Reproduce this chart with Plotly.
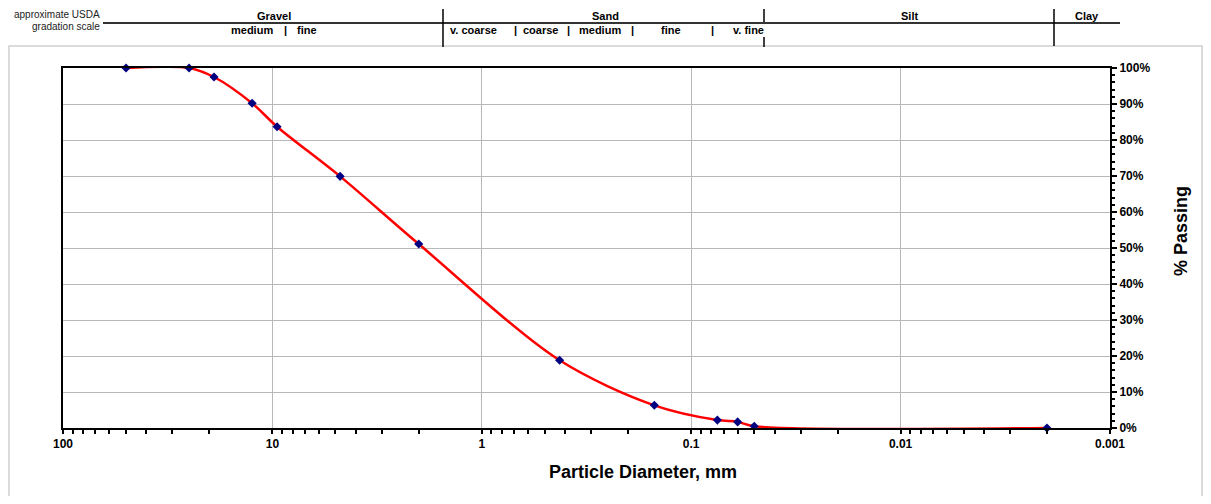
import plotly.graph_objects as go

# ---------------- data ----------------
diameter_mm = [50, 25, 19, 12.5, 9.5, 4.75, 2.0, 0.425, 0.15, 0.075, 0.06, 0.05, 0.002]
percent_passing = [100, 100, 97.5, 90.2, 83.7, 69.9, 51.1, 18.8, 6.3, 2.2, 1.7, 0.5, 0.0]

x_tick_values = [100, 10, 1, 0.1, 0.01, 0.001]
x_tick_labels = ["100", "10", "1", "0.1", "0.01", "0.001"]
x_minor_values = [m * 10.0 ** e for e in range(-3, 2) for m in range(2, 10)]
y_tick_values = list(range(0, 101, 10))
y_tick_labels = [f"{v}%" for v in y_tick_values]

# header (approximate USDA gradation scale)
header_top = ["Gravel", "Sand", "Silt", "Clay"]
header_sub = ["medium", "|", "fine", "v. coarse", "|", "coarse", "|", "medium", "|", "fine", "|", "v. fine"]

# ---------------- layout geometry ----------------
OFF = 8                      # page body margin
W, H = 1195, 488
L, R, T, B = 55, 93, 60, 68
PW, PH = W - L - R, H - T - B
FONT = "Arial, Liberation Sans, sans-serif"


def px(x):
    """screen x pixel -> paper coordinate"""
    return (x - OFF - L) / PW


def py(y):
    """screen y pixel -> paper coordinate"""
    return (H - B - (y - OFF)) / PH


fig = go.Figure()
fig.add_trace(go.Scatter(
    x=diameter_mm, y=percent_passing, mode="lines+markers",
    line=dict(color="#ff0000", width=2.5, shape="spline", smoothing=0.9),
    marker=dict(symbol="diamond", size=7, color="#000080"),
    cliponaxis=False, showlegend=False,
))

grid = "#b8b8b8"
tickfont = dict(family=FONT, size=12, color="black", weight="bold")

fig.update_layout(
    template="none",
    width=W, height=H,
    margin=dict(l=L, r=R, t=T, b=B, pad=0),
    paper_bgcolor="white", plot_bgcolor="white",
    font=dict(family=FONT, color="black"),
    xaxis=dict(
        type="log", range=[2, -3], automargin=False,
        tickmode="array", tickvals=x_tick_values, ticktext=x_tick_labels,
        ticks="outside", ticklen=4, tickwidth=2, tickcolor="black",
        minor=dict(tickmode="array", tickvals=x_minor_values, ticks="outside",
                   ticklen=4, tickwidth=2, tickcolor="black", showgrid=False),
        showgrid=True, gridcolor=grid, gridwidth=1,
        showline=True, linecolor="black", linewidth=2, mirror=True,
        zeroline=False, tickfont=tickfont,
    ),
    xaxis2=dict(
        type="log", range=[2, -3], overlaying="x", anchor="y", side="bottom",
        tickmode="array", tickvals=x_tick_values, ticks="inside", ticklen=4,
        tickwidth=2, tickcolor="black", showticklabels=False,
        minor=dict(tickmode="array", tickvals=x_minor_values, ticks="inside",
                   ticklen=4, tickwidth=2, tickcolor="black", showgrid=False),
        showgrid=False, showline=False, zeroline=False, automargin=False,
    ),
    yaxis=dict(
        range=[0, 100], side="right", automargin=False,
        tickmode="array", tickvals=y_tick_values, ticktext=y_tick_labels,
        ticks="outside", ticklen=5, tickwidth=2, tickcolor="black",
        minor=dict(dtick=2, ticks="outside", ticklen=3, tickwidth=1.5,
                   tickcolor="black", showgrid=False),
        showgrid=True, gridcolor=grid, gridwidth=1,
        showline=True, linecolor="black", linewidth=2, mirror=True,
        zeroline=False, tickfont=tickfont,
    ),
    yaxis2=dict(
        range=[0, 100], overlaying="y", anchor="x", side="right",
        tickmode="array", tickvals=y_tick_values, ticks="inside", ticklen=5,
        tickwidth=2, tickcolor="black", showticklabels=False,
        minor=dict(dtick=2, ticks="inside", ticklen=3, tickwidth=1.5,
                   tickcolor="black", showgrid=False),
        showgrid=False, showline=False, zeroline=False, automargin=False,
    ),
)

shapes = []
# outer chart-area border
shapes.append(dict(type="rect", xref="paper", yref="paper", layer="below",
                   x0=px(9), x1=px(1202), y0=py(46), y1=py(530),
                   line=dict(color="#d0d0d0", width=1.5), fillcolor="rgba(0,0,0,0)"))
# header horizontal line
shapes.append(dict(type="line", xref="paper", yref="paper",
                   x0=px(103), x1=px(1120), y0=py(23), y1=py(23),
                   line=dict(color="#333333", width=2)))
# header vertical separators
for (xx, ya, yb) in [(443, 9, 47), (764, 9, 22), (764, 37, 47), (1054, 9, 46)]:
    shapes.append(dict(type="line", xref="paper", yref="paper",
                       x0=px(xx), x1=px(xx), y0=py(ya), y1=py(yb),
                       line=dict(color="black", width=1.5)))
fig.update_layout(shapes=shapes)

ann = []
hfont = dict(family=FONT, size=11, color="black", weight="bold")
for text, xx in zip(header_top, [274, 605, 909, 1087]):
    ann.append(dict(text=text, x=px(xx), y=py(16), xanchor="center", yanchor="middle",
                    font=hfont))
for text, xx in zip(header_sub, [252, 285, 307, 473, 515, 540, 568, 600, 632, 671, 712, 748]):
    ann.append(dict(text=text, x=px(xx), y=py(30), xanchor="center", yanchor="middle",
                    font=hfont))
sfont = dict(family=FONT, size=10, color="#222222")
ann.append(dict(text="approximate USDA", x=px(101), y=py(14.5), xanchor="right",
                yanchor="middle", font=sfont, borderpad=0))
ann.append(dict(text="gradation scale", x=px(101), y=py(27), xanchor="right",
                yanchor="middle", font=sfont, borderpad=0))
# axis titles
ann.append(dict(text="Particle Diameter, mm", x=px(643), y=py(472), xanchor="center",
                yanchor="middle", font=dict(family=FONT, size=18, color="black", weight="bold")))
ann.append(dict(text="% Passing", x=px(1181), y=py(231), xanchor="center",
                yanchor="middle", textangle=-90,
                font=dict(family=FONT, size=18, color="black", weight="bold")))
for a in ann:
    a.update(xref="paper", yref="paper", showarrow=False)
fig.update_layout(annotations=ann)

fig.write_html("out.html")
